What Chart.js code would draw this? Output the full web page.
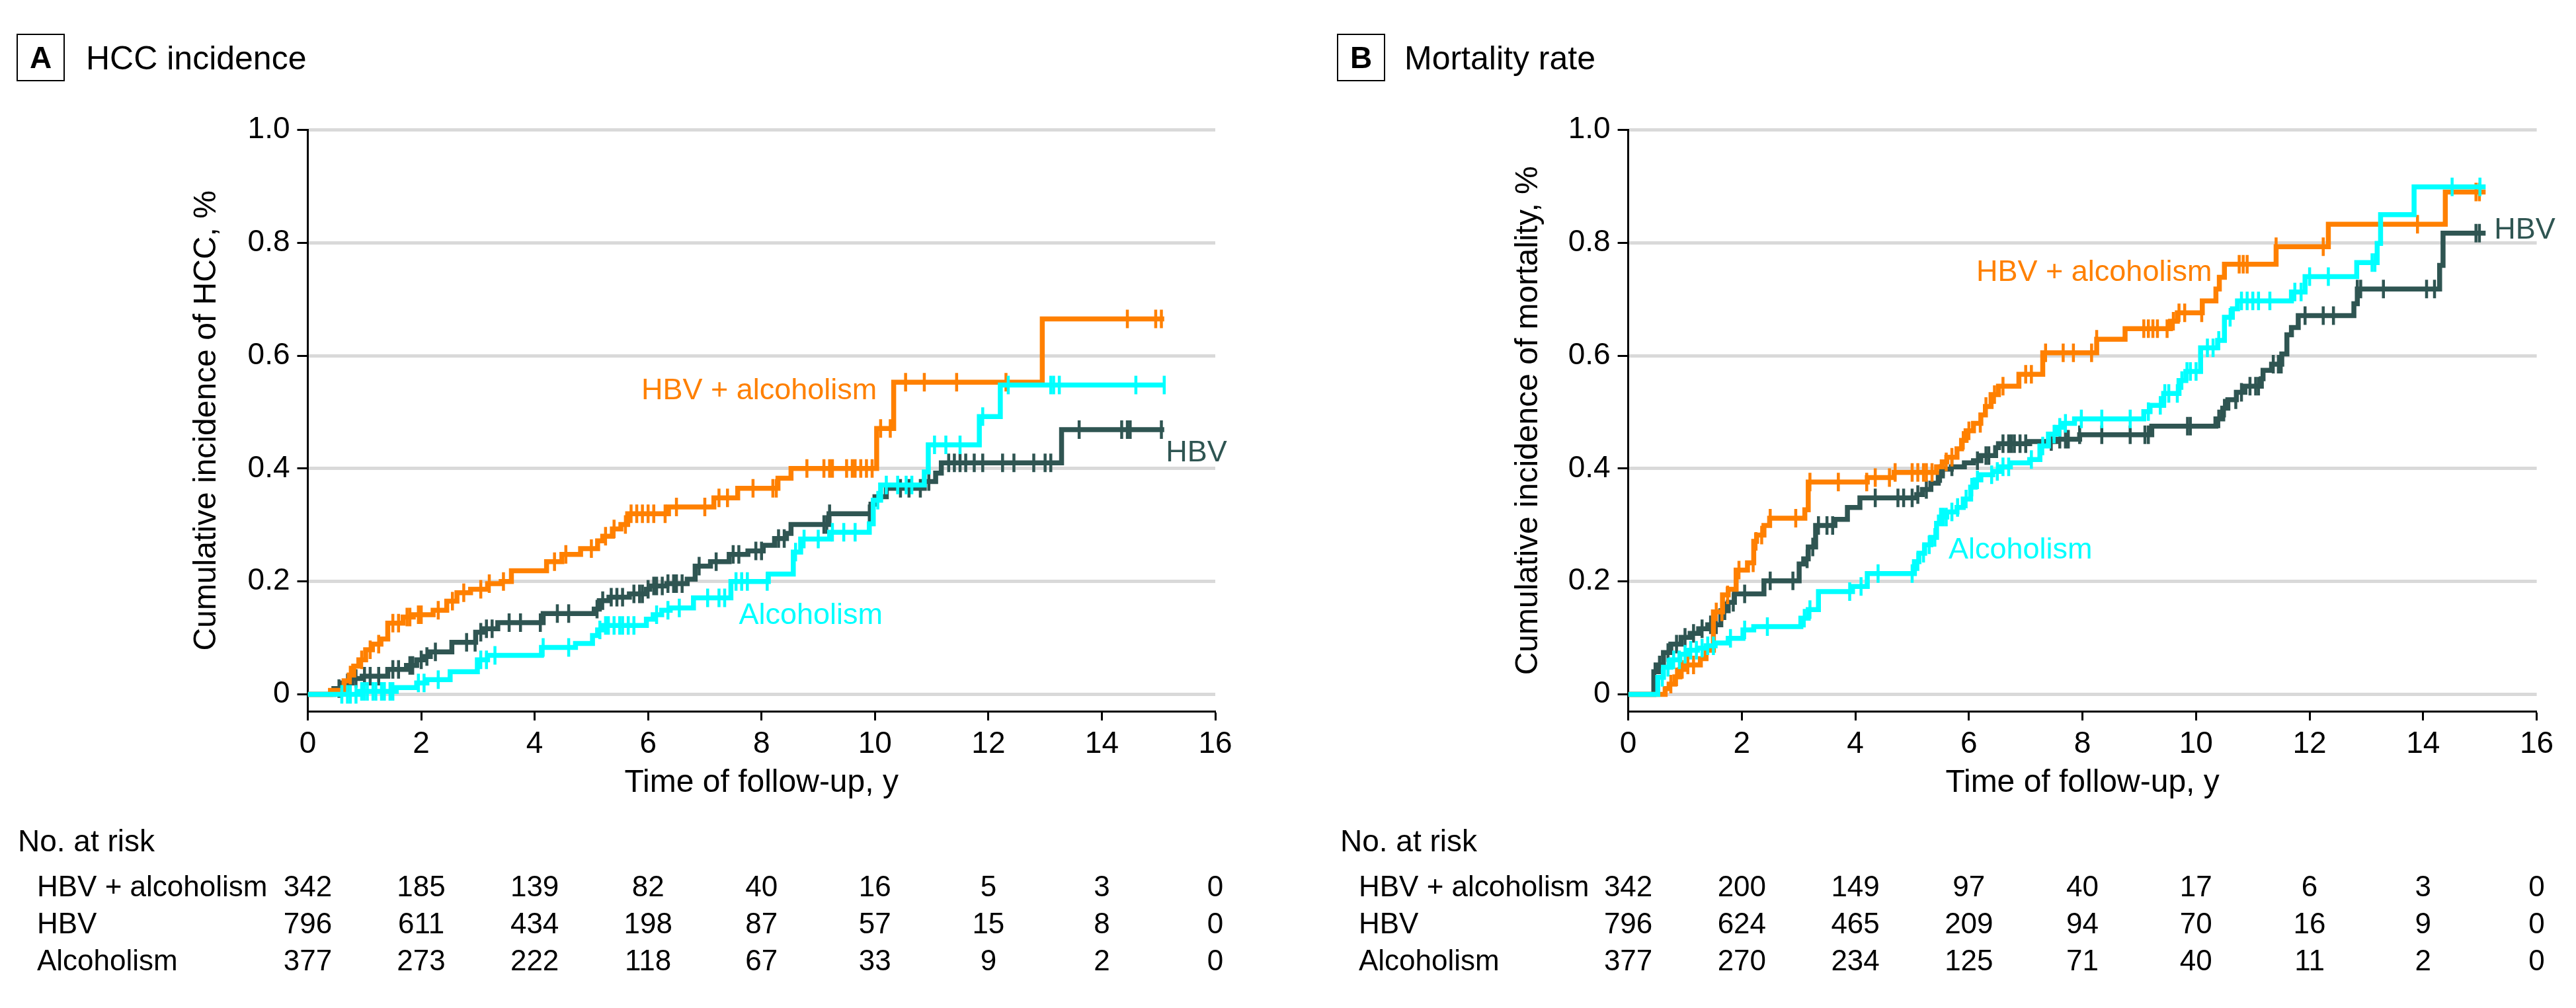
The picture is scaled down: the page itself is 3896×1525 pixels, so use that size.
<!DOCTYPE html>
<html>
<head>
<meta charset="utf-8">
<title>HCC incidence and mortality</title>
<script src="https://cdn.jsdelivr.net/npm/chart.js@4.4.1/dist/chart.umd.min.js"></script>
<style>
  html, body { margin: 0; padding: 0; background: #fff; }
  body { width: 3896px; height: 1525px; position: relative; overflow: hidden;
         font-family: 'Liberation Sans', Arial, sans-serif; color: #000; }
  .panel { position: absolute; top: 0; width: 1948px; height: 1525px; }
  .panel canvas { position: absolute; left: 0; top: 0; }
  .tag { position: absolute; top: 51px; width: 69px; height: 68px; border: 2.5px solid #000;
         font-weight: bold; font-size: 46px; line-height: 68px; text-align: center; }
  .txt { position: absolute; white-space: nowrap; line-height: 1; transform: translateY(-50%); }
  .num { transform: translate(-50%, -50%); }
</style>
</head>
<body>
<div class="panel" id="panelA" style="left:0"><canvas id="chartA" width="1948" height="1525"></canvas></div>
<div class="panel" id="panelB" style="left:1948px"><canvas id="chartB" width="1948" height="1525"></canvas></div>
<script>
// axis ticks, groups
const xTicks = [0, 2, 4, 6, 8, 10, 12, 14, 16];
const yTicks = [0, 0.2, 0.4, 0.6, 0.8, 1.0];
const groups = ['HBV + alcoholism', 'HBV', 'Alcoholism'];
const colors = ['#ff8000', '#2f5552', '#00ffff'];
const followUpEnd = 15.1;

// A. HCC incidence: event times, cumulative incidence after each step, censor times
const hccComboT = [0.40,0.64,0.73,0.81,0.90,1.02,1.14,1.29,1.41,1.68,1.86,2.21,2.45,2.63,2.87,3.17,3.41,3.59,4.21,4.48,4.81,5.11,5.20,5.37,5.52,5.64,6.36,7.16,7.58,8.29,8.52,10.03,10.33,12.95];
const hccComboY = [0.007,0.024,0.034,0.050,0.061,0.079,0.089,0.098,0.126,0.137,0.141,0.149,0.165,0.180,0.186,0.196,0.200,0.219,0.235,0.248,0.258,0.272,0.280,0.293,0.301,0.320,0.332,0.348,0.365,0.383,0.400,0.471,0.553,0.665];
const hccComboCens = [0.75,0.95,1.1,1.25,1.5,1.6,1.75,1.8,1.95,2.0,2.3,2.55,2.75,3.05,3.2,3.45,4.35,4.55,5.0,5.25,5.4,5.6,5.7,5.8,5.9,6.0,6.1,6.3,6.5,7.0,7.25,7.4,7.85,8.2,8.26,8.8,9.1,9.2,9.25,9.5,9.6,9.65,9.75,9.85,9.95,10.1,10.27,10.54,10.87,11.44,12.31,14.45,14.95,15.05];

const hccHbvT = [0.46,0.61,0.78,0.96,1.41,1.74,1.92,2.04,2.16,2.54,2.96,3.11,3.35,4.15,5.05,5.14,5.31,5.67,5.97,6.03,6.33,6.69,6.83,7.10,7.43,7.76,8.03,8.23,8.44,8.52,9.19,9.93,10.00,10.20,10.87,11.07,11.17,13.29];
const hccHbvY = [0.010,0.020,0.028,0.032,0.044,0.051,0.061,0.067,0.075,0.092,0.110,0.116,0.127,0.143,0.151,0.166,0.172,0.178,0.186,0.192,0.196,0.204,0.227,0.235,0.248,0.254,0.264,0.276,0.285,0.301,0.320,0.337,0.350,0.365,0.377,0.392,0.410,0.469];
const hccHbvCens = [0.55,0.7,0.85,1.0,1.1,1.25,1.5,1.6,1.8,1.85,2.0,2.1,2.25,2.8,2.95,3.05,3.15,3.25,3.55,3.75,4.1,4.4,4.6,5.1,5.2,5.35,5.45,5.55,5.75,5.85,5.9,6.0,6.1,6.15,6.25,6.35,6.45,6.5,6.6,6.9,7.2,7.5,7.6,7.9,8.0,8.3,8.4,9.1,9.15,9.2,9.9,10.45,10.6,10.8,10.95,11.3,11.4,11.5,11.6,11.75,11.9,12.25,12.45,12.8,13.0,13.1,13.6,14.35,14.45,14.5,15.05];

const hccAlcT = [0.90,1.56,1.92,2.10,2.51,2.99,3.17,4.12,4.72,5.02,5.11,5.20,5.97,6.09,6.24,6.39,6.80,7.46,8.12,8.56,8.69,9.20,9.90,9.97,10.10,10.87,10.94,11.84,12.21];
const hccAlcY = [0.005,0.012,0.020,0.026,0.040,0.061,0.069,0.083,0.090,0.104,0.114,0.122,0.133,0.141,0.149,0.153,0.171,0.200,0.213,0.252,0.275,0.287,0.302,0.344,0.371,0.394,0.442,0.492,0.548];
const hccAlcCens = [0.6,0.7,0.75,0.85,0.95,1.0,1.05,1.15,1.2,1.3,1.35,1.45,1.5,1.95,2.05,2.3,3.05,3.15,3.3,4.15,4.6,5.15,5.25,5.3,5.4,5.5,5.55,5.65,5.75,6.15,6.35,6.55,7.05,7.25,7.35,7.55,7.65,7.75,8.1,8.6,8.75,9.0,9.25,9.45,9.65,10.05,10.2,10.4,10.55,10.65,11.05,11.25,11.5,11.9,12.35,13.1,13.15,13.25,14.6,15.1];

// B. Mortality
const mortComboT = [0.65,0.72,0.82,0.91,1.01,1.27,1.37,1.50,1.66,1.76,1.90,2.10,2.21,2.26,2.39,2.49,3.11,3.17,4.21,4.68,5.43,5.53,5.61,5.79,5.87,5.95,6.08,6.21,6.29,6.39,6.52,6.88,7.30,8.25,8.75,9.55,9.67,10.11,10.35,10.41,10.50,11.41,12.33,14.39];
const mortComboY = [0.010,0.018,0.031,0.044,0.052,0.063,0.078,0.146,0.176,0.186,0.220,0.233,0.271,0.282,0.299,0.312,0.327,0.376,0.384,0.393,0.403,0.412,0.420,0.435,0.450,0.467,0.480,0.495,0.510,0.531,0.546,0.567,0.605,0.629,0.648,0.661,0.676,0.697,0.718,0.739,0.762,0.793,0.833,0.890];
const mortComboCens = [0.75,0.85,0.95,1.05,1.15,1.55,1.65,1.75,1.95,2.2,2.25,2.35,2.5,2.95,3.2,3.7,4.2,4.35,4.6,4.7,5.0,5.1,5.2,5.25,5.35,5.6,5.7,5.9,6.0,6.2,6.3,6.45,6.6,7.0,7.1,7.35,7.66,7.84,8.16,8.25,9.08,9.16,9.24,9.32,9.49,9.6,9.7,9.8,10.1,10.76,10.83,10.9,11.41,12.24,13.9,14.93,14.99];

const mortHbvT = [0.45,0.49,0.62,0.75,0.93,1.09,1.24,1.40,1.63,1.76,1.87,2.39,3.01,3.09,3.17,3.30,3.64,3.86,4.08,5.08,5.18,5.33,5.46,5.53,5.69,5.92,6.08,6.21,6.47,6.52,7.07,7.56,7.95,9.22,10.35,10.47,10.56,10.71,10.86,11.15,11.18,11.33,11.51,11.60,11.68,11.80,12.78,12.84,14.29,14.35];
const mortHbvY = [0.040,0.052,0.074,0.089,0.101,0.108,0.116,0.123,0.148,0.163,0.178,0.201,0.231,0.240,0.261,0.299,0.310,0.331,0.348,0.354,0.363,0.374,0.391,0.399,0.403,0.410,0.414,0.423,0.437,0.444,0.448,0.452,0.460,0.475,0.488,0.507,0.522,0.535,0.546,0.559,0.574,0.585,0.603,0.637,0.650,0.671,0.692,0.718,0.760,0.817];
const mortHbvCens = [0.55,0.7,0.85,1.0,1.15,1.3,1.45,1.55,1.65,1.7,1.85,2.05,2.5,2.9,3.15,3.25,3.35,3.5,3.6,4.35,4.75,4.85,5.0,5.1,5.25,5.5,5.55,5.7,6.15,6.3,6.35,6.6,6.7,6.75,6.8,6.9,7.0,7.45,7.6,7.7,7.75,7.95,8.34,8.84,9.1,9.16,9.85,9.9,10.4,10.5,10.7,10.8,10.95,11.05,11.1,11.36,11.45,11.5,11.92,12.24,12.42,12.84,12.9,13.3,14.06,14.2,14.93,14.99];

const mortAlcT = [0.52,0.62,0.75,0.91,1.06,1.22,1.37,1.53,1.76,2.02,2.21,3.04,3.17,3.35,3.95,4.21,5.04,5.12,5.22,5.33,5.43,5.48,5.61,5.79,5.90,6.03,6.11,6.21,6.42,6.57,6.73,7.07,7.25,7.40,7.54,7.66,7.86,9.08,9.19,9.43,9.70,9.82,10.08,10.38,10.50,10.64,10.73,11.68,11.92,12.83,13.19,13.25,13.84];
const mortAlcY = [0.030,0.048,0.061,0.071,0.078,0.082,0.086,0.091,0.099,0.114,0.120,0.135,0.150,0.182,0.191,0.214,0.235,0.250,0.265,0.278,0.303,0.314,0.323,0.331,0.346,0.367,0.380,0.389,0.395,0.403,0.410,0.416,0.440,0.461,0.473,0.480,0.488,0.501,0.512,0.533,0.556,0.572,0.614,0.627,0.668,0.683,0.697,0.713,0.740,0.765,0.799,0.850,0.899];
const mortAlcCens = [0.6,0.7,0.8,0.9,1.0,1.1,1.2,1.3,1.4,1.5,1.8,2.05,2.45,3.1,3.2,3.9,4.1,4.4,5.0,5.1,5.2,5.3,5.4,5.5,5.55,5.6,5.7,5.8,5.95,6.05,6.15,6.4,6.5,6.6,6.7,7.1,7.3,7.5,7.6,7.7,7.98,8.34,8.84,9.16,9.37,9.45,9.52,9.67,9.75,9.84,9.9,10.0,10.2,10.3,10.4,10.6,10.8,10.9,11.0,11.1,11.3,11.74,11.85,12.0,12.33,13.1,13.15,14.51,15.0];

// No. at risk at each x tick
const hccRiskCombo = [342, 185, 139, 82, 40, 16, 5, 3, 0];
const hccRiskHbv   = [796, 611, 434, 198, 87, 57, 15, 8, 0];
const hccRiskAlc   = [377, 273, 222, 118, 67, 33, 9, 2, 0];
const mortRiskCombo = [342, 200, 149, 97, 40, 17, 6, 3, 0];
const mortRiskHbv   = [796, 624, 465, 209, 94, 70, 16, 9, 0];
const mortRiskAlc   = [377, 270, 234, 125, 71, 40, 11, 2, 0];

// layout (pixels, local to each panel)
const riskRowY = [1272, 1341, 1397, 1453];
const drawOrder = [1, 2, 0]; // cyan on top, dark teal at the back

const panels = [
  { host: 'panelA', letter: 'A', title: 'HCC incidence', yTitle: 'Cumulative incidence of HCC, %',
    series: [{ t: hccComboT, y: hccComboY, c: hccComboCens },
             { t: hccHbvT, y: hccHbvY, c: hccHbvCens },
             { t: hccAlcT, y: hccAlcY, c: hccAlcCens }],
    risk: [hccRiskCombo, hccRiskHbv, hccRiskAlc],
    labelAt: [[5.88, 0.541], [15.13, 0.431], [7.6, 0.143]],
    tagLeft: 25, titleLeft: 130, riskHead: 27, riskLabel: 56,
    padLeft: 284.2, yWidth: 181.3, padRight: 110 },
  { host: 'panelB', letter: 'B', title: 'Mortality rate', yTitle: 'Cumulative incidence of mortality, %',
    series: [{ t: mortComboT, y: mortComboY, c: mortComboCens },
             { t: mortHbvT, y: mortHbvY, c: mortHbvCens },
             { t: mortAlcT, y: mortAlcY, c: mortAlcCens }],
    risk: [mortRiskCombo, mortRiskHbv, mortRiskAlc],
    labelAt: [[6.13, 0.751], [15.25, 0.826], [5.64, 0.259]],
    tagLeft: 74, titleLeft: 176, riskHead: 79, riskLabel: 107,
    padLeft: 335.2, yWidth: 179.4, padRight: 59.4 }
];

Chart.defaults.font.family = "'Liberation Sans', Arial, sans-serif";
Chart.defaults.color = '#000';

function stepPoints(t, y) {
  const pts = [{ x: 0, y: 0 }];
  t.forEach((v, i) => pts.push({ x: v, y: y[i] }));
  pts.push({ x: followUpEnd, y: y[y.length - 1] });
  return pts;
}

// value of the step curve at time x (for placing censor marks)
function valueAt(t, y, x) {
  let v = 0;
  t.forEach((ti, i) => { if (ti <= x) v = y[i]; });
  return v;
}

function addText(host, text, x, y, size, cls, color) {
  const d = document.createElement('div');
  d.className = 'txt' + (cls ? ' ' + cls : '');
  d.textContent = text;
  d.style.left = x + 'px';
  d.style.top = y + 'px';
  d.style.fontSize = size + 'px';
  if (color) d.style.color = color;
  host.appendChild(d);
}

function buildPanel(p) {
  const host = document.getElementById(p.host);
  const canvas = host.querySelector('canvas');

  const datasets = [];
  p.series.forEach((s, i) => {
    datasets.push({
      label: groups[i],
      data: stepPoints(s.t, s.y),
      stepped: 'before',
      borderColor: colors[i],
      borderWidth: 7.5,
      pointRadius: 0,
      fill: false,
      order: drawOrder[i]
    });
    datasets.push({
      label: groups[i] + ' (censored)',
      data: s.c.map(x => ({ x: x, y: valueAt(s.t, s.y, x) })),
      showLine: false,
      pointStyle: 'line',
      pointRotation: 90,
      pointRadius: 14,
      pointBorderWidth: 4.5,
      pointBorderColor: colors[i],
      borderColor: colors[i],
      order: drawOrder[i]
    });
  });

  const chart = new Chart(canvas, {
    type: 'line',
    data: { datasets: datasets },
    options: {
      responsive: false,
      animation: false,
      events: [],
      layout: { padding: { left: p.padLeft, right: p.padRight, top: 196.6, bottom: 311 } },
      plugins: { legend: { display: false }, tooltip: { enabled: false } },
      scales: {
        x: {
          type: 'linear', min: 0, max: 16,
          afterBuildTicks: sc => { sc.ticks = xTicks.map(v => ({ value: v })); },
          afterFit: sc => { sc.height = 138; },
          grid: { drawOnChartArea: false, drawTicks: true, tickLength: 14, tickWidth: 3, tickColor: '#000' },
          border: { display: true, color: '#000', width: 3 },
          ticks: { color: '#000', font: { size: 46 }, padding: 9, maxRotation: 0, autoSkip: false },
          title: { display: true, text: 'Time of follow-up, y', color: '#000', font: { size: 48 }, padding: 0 }
        },
        y: {
          type: 'linear', min: -0.03, max: 1,
          afterBuildTicks: sc => { sc.ticks = yTicks.map(v => ({ value: v })); },
          afterFit: sc => { sc.width = p.yWidth; },
          grid: { color: '#d9d9d9', lineWidth: 5, tickLength: 16, tickWidth: 3, tickColor: '#000' },
          border: { display: true, color: '#000', width: 3 },
          ticks: { color: '#000', font: { size: 46 }, padding: 11, autoSkip: false,
                   callback: v => v === 0 ? '0' : v.toFixed(1) },
          title: { display: true, text: p.yTitle, color: '#000', font: { size: 48 }, padding: 0 }
        }
      }
    }
  });

  const xs = chart.scales.x, ys = chart.scales.y;

  // panel header
  const tag = document.createElement('div');
  tag.className = 'tag';
  tag.style.left = p.tagLeft + 'px';
  tag.textContent = p.letter;
  host.appendChild(tag);
  addText(host, p.title, p.titleLeft, 88, 50);

  // curve labels
  p.labelAt.forEach((pos, i) => {
    addText(host, groups[i], xs.getPixelForValue(pos[0]), ys.getPixelForValue(pos[1]), 45, null, colors[i]);
  });

  // number at risk table
  addText(host, 'No. at risk', p.riskHead, riskRowY[0], 46);
  p.risk.forEach((row, r) => {
    addText(host, groups[r], p.riskLabel, riskRowY[r + 1], 44);
    row.forEach((n, k) => {
      addText(host, String(n), xs.getPixelForValue(xTicks[k]), riskRowY[r + 1], 44, 'num');
    });
  });
}

panels.forEach(buildPanel);
</script>
</body>
</html>
